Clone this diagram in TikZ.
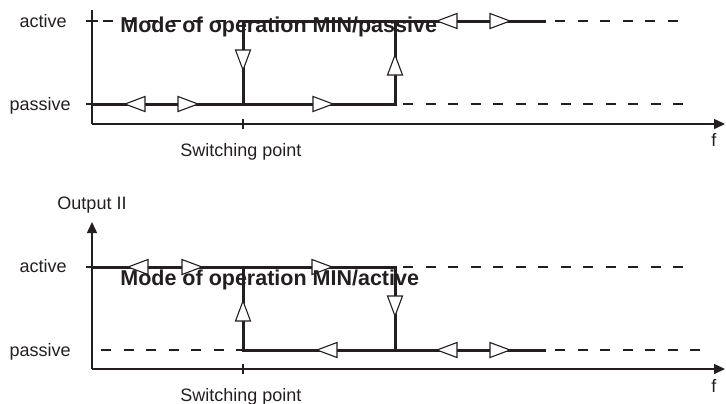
\documentclass[tikz,border=0pt]{standalone}
\usepackage{fontspec}
\setmainfont{Liberation Sans}
\usetikzlibrary{arrows.meta}
\definecolor{inkgray}{HTML}{231F20}

\begin{document}
\begin{tikzpicture}[
    x=0.5pt, y=-0.5pt,
    every node/.style={
    inner sep=0pt,
    text=inkgray,
    font=\fontsize{9}{10}\selectfont},
    axis/.style={draw=inkgray, line width=0.75pt},
    level/.style={draw=inkgray, line width=1.5pt},
    guide/.style={draw=inkgray, line width=0.7pt, dash pattern=on 5pt off 6.25pt},
    tri/.style={draw=inkgray, fill=white, line width=0.55pt, line join=miter},
    title/.style={anchor=base west, font=\bfseries\fontsize{10.75}{12}\selectfont},
    >={Triangle[length=5.5pt, width=5pt]}]
    \useasboundingbox (0,0) rectangle (726,403);
    % upper chart: MIN/passive
    \coordinate (orig1) at (92,124);
    \coordinate (ytop1) at (92,10);
    \coordinate (xend1) at (725,124);
    \coordinate (sw1) at (243,124);
    \coordinate (pa1) at (92,104);
    \coordinate (pb1) at (243,104);
    \coordinate (pc1) at (395,104);
    \coordinate (ab1) at (243,21);
    \coordinate (ac1) at (395,21);
    \coordinate (ad1) at (546,21);
    \draw[axis] (ytop1) -- (orig1);
    \draw[axis, ->] (orig1) -- (xend1);
    \draw[axis] ([xshift=-3pt]ab1 -| orig1) -- ++(12,0);
    \draw[axis] ([xshift=-3pt]pa1) -- (pa1);
    \draw[axis] ([yshift=2.5pt]sw1) -- ([yshift=-2.5pt]sw1);
    \draw[guide] (103,21) -- (ab1);
    \draw[guide] (555,21) -- (686,21);
    \draw[guide] (403,104) -- (686,104);
    \draw[level] (pa1) -- (pc1) -- (ac1);
    \draw[level] (pb1) -- (ab1) -- (ad1);
    \foreach \x/\y/\a in {135/104/180, 188/104/0, 323/104/0, 243/60/270,
                          395/65/90, 447/21/180, 500/21/0}
        \draw[tri, shift={(\x,\y)}, rotate=\a] (10,0) -- (-10,-7.5) -- (-10,7.5) -- cycle;
    \node[anchor=base east] (act1) at (67,27) {active};
    \node[anchor=base east] (pas1) at (71,110) {passive};
    \node[anchor=base] (swp1) at (241,156) {Switching point};
    \node[anchor=base west] (f1) at (711,146) {f};
    \node[title] (mode1) at (120,32) {Mode of operation MIN/passive};
    % lower chart: MIN/active
    \coordinate (orig2) at (92,369);
    \coordinate (ytop2) at (92,222);
    \coordinate (xend2) at (725,369);
    \coordinate (sw2) at (243,369);
    \coordinate (aa2) at (92,267);
    \coordinate (ab2) at (243,267);
    \coordinate (ac2) at (395,267);
    \coordinate (pb2) at (243,350);
    \coordinate (pc2) at (395,350);
    \coordinate (pd2) at (546,350);
    \draw[axis, ->] (orig2) -- (ytop2);
    \draw[axis, ->] (orig2) -- (xend2);
    \draw[axis] ([xshift=-3pt]aa2) -- (aa2);
    \draw[axis] ([yshift=2.5pt]sw2) -- ([yshift=-2.5pt]sw2);
    \draw[guide] (101,350) -- (pb2);
    \draw[guide] (403,267) -- (686,267);
    \draw[guide] (555,350) -- (701,350);
    \draw[level] (aa2) -- (ac2) -- (pc2);
    \draw[level] (pd2) -- (pb2) -- (ab2);
    \foreach \x/\y/\a in {138/267/180, 192/267/0, 322/267/0, 395/306/270,
                          243/311/90, 327/350/180, 447/350/180, 500/350/0}
        \draw[tri, shift={(\x,\y)}, rotate=\a] (10,0) -- (-10,-7.5) -- (-10,7.5) -- cycle;
    \node[anchor=base] (out2) at (92,209) {Output II};
    \node[anchor=base east] (act2) at (67,272) {active};
    \node[anchor=base east] (pas2) at (71,356) {passive};
    \node[anchor=base] (swp2) at (241,401) {Switching point};
    \node[anchor=base west] (f2) at (711,392) {f};
    \node[title] (mode2) at (120,285) {Mode of operation MIN/active};
\end{tikzpicture}
\end{document}
